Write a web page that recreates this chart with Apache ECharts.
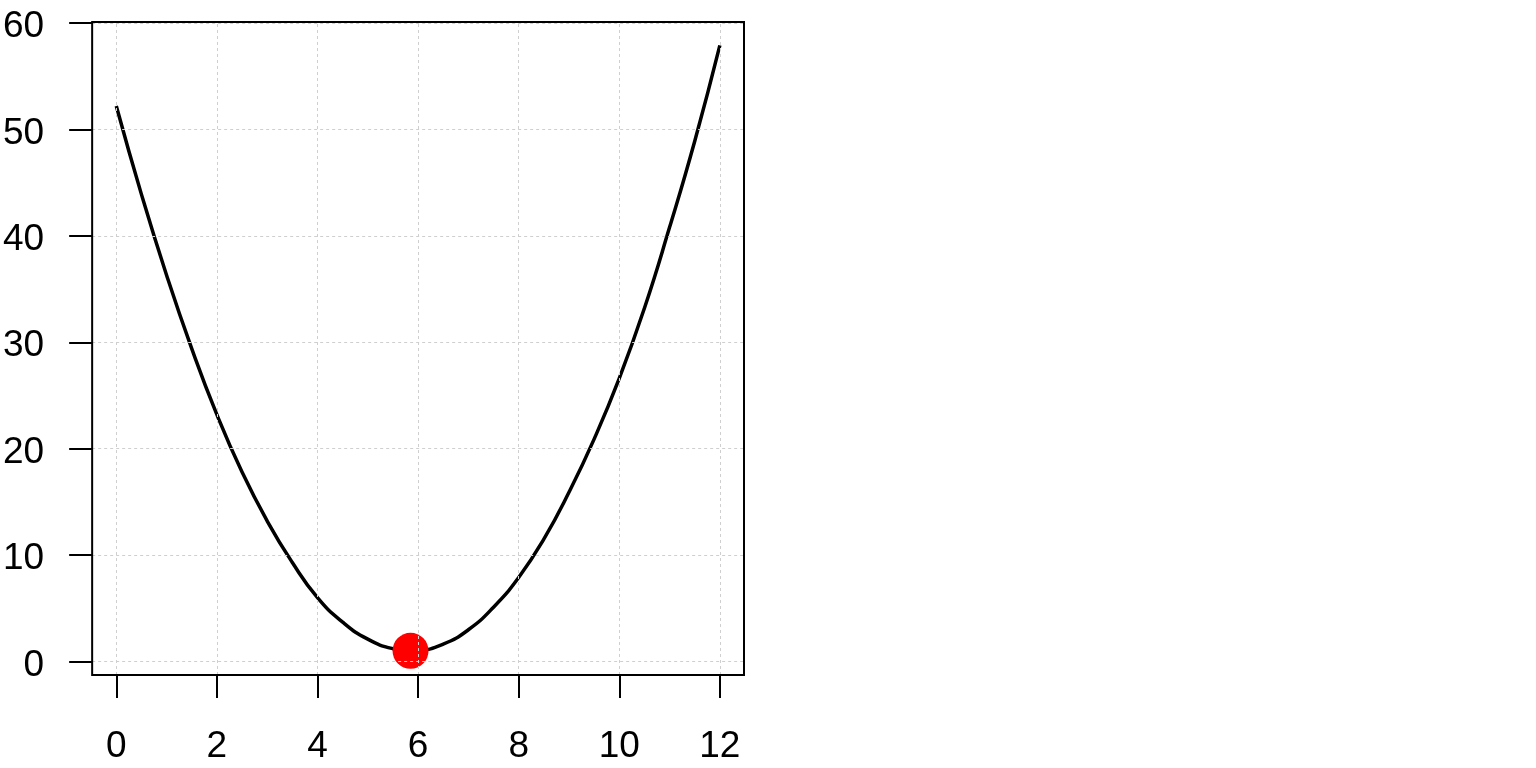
<!DOCTYPE html>
<html>
<head>
<meta charset="utf-8">
<script src="https://cdn.jsdelivr.net/npm/echarts@6/dist/echarts.min.js"></script>
<style>
html,body{margin:0;padding:0;background:#fff;}
#chart{width:1536px;height:768px;}
</style>
</head>
<body>
<div id="chart"></div>
<script>
// Curve values
const curveX = [0, 0.5, 1, 1.5, 2, 2.5, 3, 3.5, 4, 4.5, 5, 5.5, 5.85, 6, 6.5, 7, 7.5, 8, 8.5, 9, 9.5, 10, 10.5, 11, 11.5, 12];
const curveY = [52.2, 43.9, 36.3, 29.4, 23.2, 17.8, 13.2, 9.3, 6.0, 3.7, 2.1, 1.2, 1.0, 1.03, 1.63, 2.98, 5.1, 7.9, 11.5, 15.9, 20.9, 26.6, 33.2, 40.8, 48.9, 57.9];
// Highlighted minimum
const minX = [5.85];
const minY = [1.0];
// Tick labels
const xTicks = [0, 2, 4, 6, 8, 10, 12];
const yTicks = [0, 10, 20, 30, 40, 50, 60];

const FONT = 'Liberation Sans, Arial, sans-serif';
const gridStyle = {color: '#cfcfcf', width: 1, type: [3, 3]};

const chart = echarts.init(document.getElementById('chart'), null, {renderer: 'canvas'});
chart.setOption({
  animation: false,
  backgroundColor: '#ffffff',
  grid: {left: 92, right: 792, top: 22, bottom: 93, show: true, borderColor: '#000', borderWidth: 2, backgroundColor: 'transparent', z: 10},
  xAxis: {
    type: 'value', min: -0.48, max: 12.48,
    axisLine: {show: false, onZero: false},
    splitLine: {show: false},
    axisTick: {show: true, inside: false, customValues: xTicks, length: 23, lineStyle: {color: '#000', width: 2}},
    axisLabel: {customValues: xTicks, color: '#000', fontSize: 37, fontFamily: FONT, margin: 53}
  },
  yAxis: {
    type: 'value', min: -1.27, max: 60.1,
    axisLine: {show: false, onZero: false},
    splitLine: {show: false},
    axisTick: {show: true, inside: false, customValues: yTicks, length: 23, lineStyle: {color: '#000', width: 2}},
    axisLabel: {customValues: yTicks, color: '#000', fontSize: 37, fontFamily: FONT, margin: 48, verticalAlign: 'top', lineHeight: 8}
  },
  series: [
    {
      type: 'line', data: [], silent: true, z: 1,
      markLine: {
        silent: true, symbol: 'none', label: {show: false}, lineStyle: gridStyle, animation: false,
        data: xTicks.map(v => ({xAxis: v})).concat(yTicks.map(v => ({yAxis: v})))
      }
    },
    {
      type: 'line', z: 3,
      data: curveX.map((x, i) => [x, curveY[i]]),
      smooth: true, showSymbol: false, symbol: 'none',
      lineStyle: {color: '#000', width: 3.5}
    },
    {
      type: 'scatter', z: 4,
      data: minX.map((x, i) => [x, minY[i]]),
      symbol: 'circle', symbolSize: 36,
      itemStyle: {color: '#ff0000', opacity: 1}
    }
  ]
});
</script>
</body>
</html>
